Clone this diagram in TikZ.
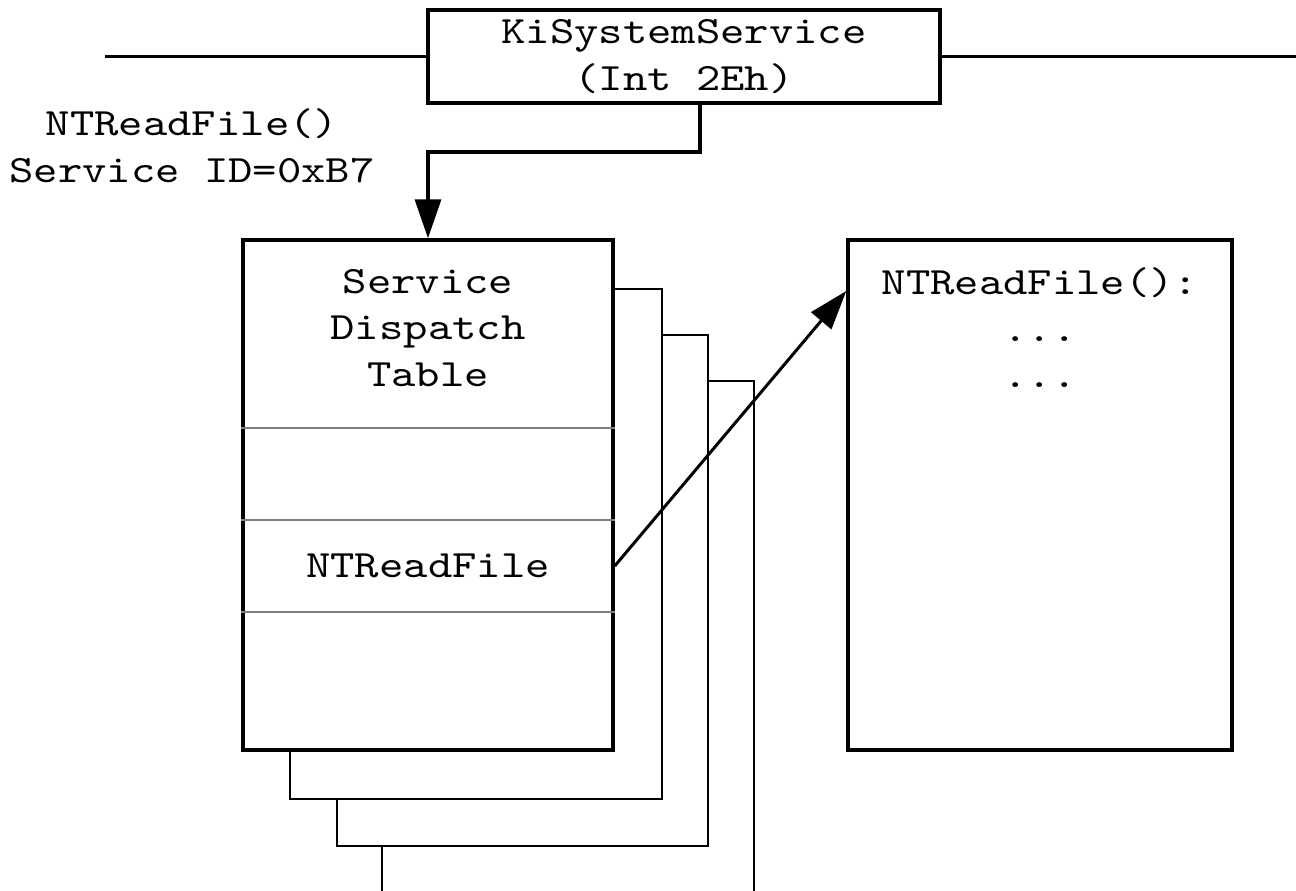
\documentclass[tikz,border=0pt]{standalone}
\usepackage{fontspec}
\setmonofont[FakeStretch=1.2]{lmmono10-regular.otf}
\usetikzlibrary{arrows.meta}
\tikzset{
  box/.style={draw, line width=2pt, fill=white, align=center, inner sep=0pt},
  page/.style={draw, line width=0.8pt, fill=white},
  rowline/.style={draw=gray, line width=0.7pt},
  arr/.style={line width=2pt, -{Triangle[length=0.78cm,width=0.52cm]}},
}
\begin{document}
\begin{tikzpicture}[x=0.02cm, y=-0.02cm, font=\fontsize{22}{26.5}\selectfont\ttfamily]
\useasboundingbox (0,0) rectangle (1296,891);
% call gate
\node[box, minimum width=10.24cm, minimum height=1.86cm] (ki) at (684,56.5) {KiSystemService\\(Int 2Eh)};
\coordinate (busl) at (105,56.5);
\coordinate (busr) at (1300,56.5);
\draw[line width=2pt] (busl) -- (ki.west);
\draw[line width=2pt] (ki.east) -- (busr);
\node[align=center] (svcid) at (192,146) {NTReadFile()\\Service ID=0xB7};
% stacked tables
\draw[page] (382,381) rectangle (754,940);
\draw[page] (337,335) rectangle (708,846);
\draw[page] (290,289) rectangle (662,799);
\node[box, minimum width=7.4cm, minimum height=10.2cm] (tab) at (428,495) {};
\draw[rowline] (tab.west |- 0,428) -- (tab.east |- 0,428);
\draw[rowline] (tab.west |- 0,520) -- (tab.east |- 0,520);
\draw[rowline] (tab.west |- 0,612) -- (tab.east |- 0,612);
\node[align=center] (title) at (428,328) {Service\\Dispatch\\Table};
\node (entry) at (428,566) {NTReadFile};
% routine
\node[box, minimum width=7.68cm, minimum height=10.2cm] (func) at (1040,495) {};
\node[align=center] (code) at (1040,328) {NTReadFile():\\...\\...};
\coordinate (kiout) at (700,103);
\coordinate (fentry) at (func.west |- 0,291);
\draw[arr] (kiout) -- ++(0,49) -| (tab.north);
\draw[arr, line width=1.7pt] (tab.east |- entry) -- (fentry);
\end{tikzpicture}
\end{document}
